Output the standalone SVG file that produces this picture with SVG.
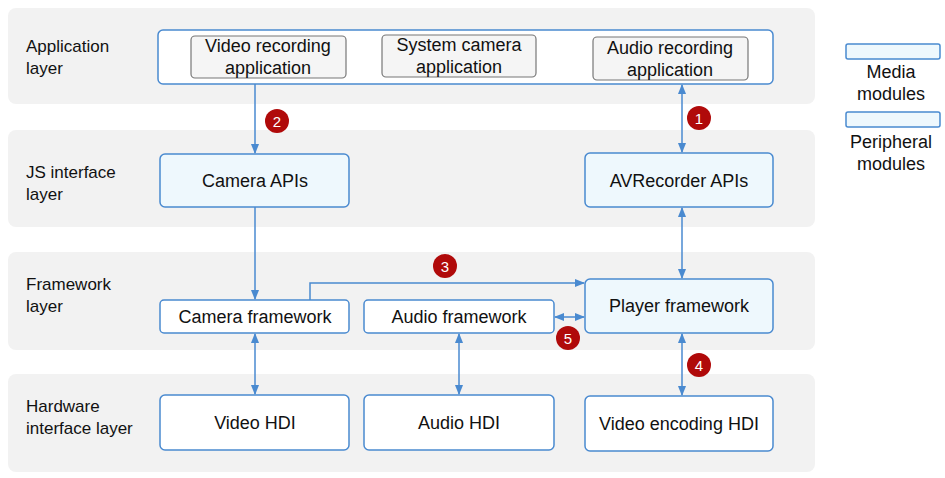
<svg xmlns="http://www.w3.org/2000/svg" width="945" height="478" viewBox="0 0 945 478">
<style>
text{font-family:"Liberation Sans",Arial,sans-serif;fill:#111;font-size:18px;text-anchor:middle}
.lbl{text-anchor:start;font-size:17px}
.band{fill:#f2f2f2}
.blue{fill:#eef8fd;stroke:#4a8ad0;stroke-width:1.5}
.white{fill:#fff;stroke:#4a8ad0;stroke-width:1.5}
.gray{fill:#f5f5f5;stroke:#777;stroke-width:1.2}
.c{stroke:#4a8ad0;stroke-width:1.5;fill:none}
.b circle{fill:#b00a0a}
.b text{fill:#fff;font-size:15px}
</style>
<defs>
<marker id="a" viewBox="0 0 10 10" refX="9" refY="5" markerWidth="7" markerHeight="7" orient="auto-start-reverse"><path d="M0,1L10,5L0,9z" fill="#4a8ad0"/></marker>
</defs>
<rect width="945" height="478" fill="#fff"/>
<rect class="band" x="8" y="8" width="807" height="96" rx="8"/>
<rect class="band" x="8" y="130" width="807" height="97" rx="8"/>
<rect class="band" x="8" y="252" width="807" height="98" rx="8"/>
<rect class="band" x="8" y="374" width="807" height="98" rx="8"/>
<text class="lbl" x="26" y="52">Application</text><text class="lbl" x="26" y="74">layer</text>
<text class="lbl" x="26" y="178">JS interface</text><text class="lbl" x="26" y="200">layer</text>
<text class="lbl" x="26" y="290">Framework</text><text class="lbl" x="26" y="312">layer</text>
<text class="lbl" x="26" y="412">Hardware</text><text class="lbl" x="26" y="434">interface layer</text>
<g id="app"><rect class="white" x="158" y="30" width="615" height="54" rx="5"/></g>
<g id="videoapp"><rect class="gray" x="191" y="36" width="155" height="42" rx="4"/><text x="268" y="52">Video recording</text><text x="268" y="74">application</text></g>
<g id="sysapp"><rect class="gray" x="382" y="35" width="154" height="42" rx="4"/><text x="459" y="51">System camera</text><text x="459" y="73">application</text></g>
<g id="audioapp"><rect class="gray" x="593" y="37" width="155" height="43" rx="4"/><text x="670" y="54">Audio recording</text><text x="670" y="76">application</text></g>
<g id="camapi"><rect class="blue" x="160" y="154" width="189" height="53" rx="5"/><text x="255" y="187">Camera APIs</text></g>
<g id="avrec"><rect class="blue" x="585" y="153" width="188" height="54" rx="5"/><text x="679" y="187">AVRecorder APIs</text></g>
<g id="camfw"><rect class="white" x="160" y="300" width="189" height="33" rx="4"/><text x="255" y="323">Camera framework</text></g>
<g id="audfw"><rect class="white" x="364" y="300" width="190" height="33" rx="4"/><text x="459" y="323">Audio framework</text></g>
<g id="player"><rect class="blue" x="585" y="279" width="188" height="54" rx="5"/><text x="679" y="312">Player framework</text></g>
<g id="vhdi"><rect class="white" x="160" y="395" width="189" height="55" rx="5"/><text x="255" y="429">Video HDI</text></g>
<g id="ahdi"><rect class="white" x="364" y="395" width="190" height="55" rx="5"/><text x="459" y="429">Audio HDI</text></g>
<g id="vehdi"><rect class="white" x="585" y="396" width="188" height="55" rx="5"/><text x="679" y="430">Video encoding HDI</text></g>
<g id="connectors">
<path class="c" d="M255,84V153" marker-end="url(#a)"/>
<path class="c" d="M255,207V299" marker-end="url(#a)"/>
<path class="c" d="M682,85V152" marker-start="url(#a)" marker-end="url(#a)"/>
<path class="c" d="M682,208V278" marker-start="url(#a)" marker-end="url(#a)"/>
<path class="c" d="M310,300V283H584" marker-end="url(#a)"/>
<path class="c" d="M555,317H584" marker-start="url(#a)" marker-end="url(#a)"/>
<path class="c" d="M255,334V394" marker-start="url(#a)" marker-end="url(#a)"/>
<path class="c" d="M459,334V394" marker-start="url(#a)" marker-end="url(#a)"/>
<path class="c" d="M682,334V395" marker-start="url(#a)" marker-end="url(#a)"/>
</g>
<g class="b">
<circle cx="699" cy="118" r="12"/><text x="699" y="124">1</text>
<circle cx="277" cy="121" r="12"/><text x="277" y="127">2</text>
<circle cx="445" cy="266" r="12"/><text x="445" y="272">3</text>
<circle cx="699" cy="365" r="12"/><text x="699" y="371">4</text>
<circle cx="568" cy="338" r="12"/><text x="568" y="344">5</text>
</g>
<g id="legend">
<rect class="blue" x="846" y="44" width="94" height="15" rx="2"/>
<text x="891" y="78">Media</text><text x="891" y="100">modules</text>
<rect class="blue" x="846" y="112" width="94" height="15" rx="2"/>
<text x="891" y="148">Peripheral</text><text x="891" y="170">modules</text>
</g>
</svg>
